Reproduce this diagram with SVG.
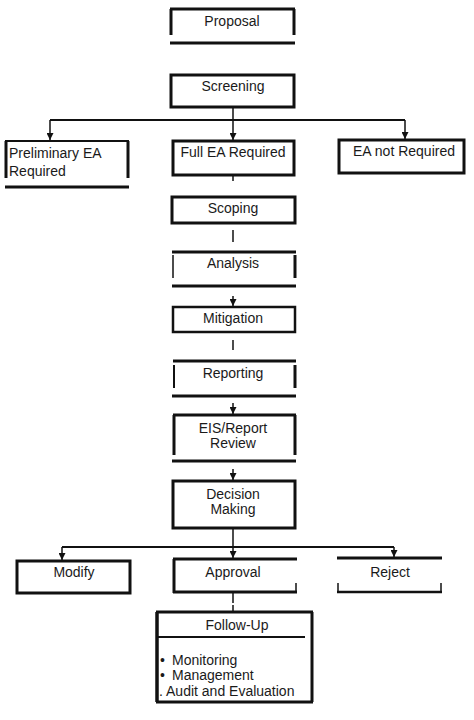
<svg xmlns="http://www.w3.org/2000/svg" width="474" height="720" viewBox="0 0 474 720">
<style>
  text { font-family: "Liberation Sans", Arial, sans-serif; font-size: 14px; fill: #1a1a1a; }
  .c { text-anchor: middle; }
  .b { fill: none; stroke: #111; stroke-width: 3; }
  .t { fill: none; stroke: #111; stroke-width: 1.5; }
  .k { fill: none; stroke: #111; stroke-width: 1.5; }
  .a { fill: none; stroke: #111; stroke-width: 1.5; marker-end: url(#ah); }
</style>
<defs>
  <marker id="ah" markerWidth="7" markerHeight="7" refX="7" refY="3.5" orient="auto" markerUnits="userSpaceOnUse" viewBox="0 0 7 7">
    <path d="M0,0 L7,3.5 L0,7 Z" fill="#111"/>
  </marker>
</defs>
<rect width="474" height="720" fill="#fff"/>

<g id="connectors">
  <line class="k" x1="233" y1="107" x2="233" y2="120"/>
  <line class="k" x1="50" y1="120" x2="405" y2="120" style="stroke-width:2"/>
  <line class="a" x1="50" y1="120" x2="50" y2="140"/>
  <line class="a" x1="233" y1="120" x2="233" y2="140"/>
  <line class="a" x1="405" y1="120" x2="405" y2="139"/>
  <line class="k" x1="233" y1="175" x2="233" y2="181"/>
  <line class="k" x1="233" y1="230" x2="233" y2="242"/>
  <line class="a" x1="233" y1="296" x2="233" y2="306"/>
  <line class="k" x1="233" y1="340" x2="233" y2="350"/>
  <line class="a" x1="233" y1="403" x2="233" y2="414"/>
  <line class="a" x1="233" y1="469" x2="233" y2="480"/>
  <line class="k" x1="233" y1="528" x2="233" y2="547"/>
  <line class="k" x1="62" y1="547" x2="394" y2="547" style="stroke-width:2"/>
  <line class="a" x1="62" y1="547" x2="62" y2="560"/>
  <line class="a" x1="233" y1="547" x2="233" y2="558"/>
  <line class="a" x1="394" y1="547" x2="394" y2="557"/>
  <line class="k" x1="233" y1="592" x2="233" y2="603"/>
  <line class="k" x1="233" y1="605" x2="233" y2="611"/>
</g>

<g id="proposal">
  <line class="b" x1="170" y1="9" x2="295" y2="9"/>
  <line class="b" x1="171" y1="9" x2="171" y2="35"/>
  <line class="b" x1="294" y1="9" x2="294" y2="35"/>
  <line class="b" x1="170" y1="43" x2="295" y2="43"/>
  <text class="c" x="232" y="26">Proposal</text>
</g>

<g id="screening">
  <rect class="b" x="171" y="75" width="123" height="32"/>
  <text class="c" x="233" y="91">Screening</text>
</g>

<g id="preliminary">
  <line class="b" x1="5" y1="141" x2="129" y2="141" style="stroke-width:2"/>
  <line class="b" x1="6" y1="141" x2="6" y2="178"/>
  <line class="b" x1="128" y1="141" x2="128" y2="178"/>
  <line class="b" x1="5" y1="187" x2="129" y2="187"/>
  <text x="9" y="158">Preliminary EA</text>
  <text x="9" y="176">Required</text>
</g>

<g id="full-ea">
  <rect class="b" x="173" y="141" width="121" height="34"/>
  <text class="c" x="233" y="157">Full EA Required</text>
</g>

<g id="ea-not">
  <rect class="b" x="339" y="140" width="125" height="33"/>
  <text class="c" x="404" y="156">EA not Required</text>
</g>

<g id="scoping">
  <rect class="b" x="172" y="197" width="123" height="26"/>
  <text class="c" x="233" y="213">Scoping</text>
</g>

<g id="analysis">
  <line class="b" x1="172" y1="252" x2="296" y2="252"/>
  <line class="t" x1="173" y1="255" x2="173" y2="278"/>
  <line class="b" x1="295" y1="255" x2="295" y2="278"/>
  <line class="b" x1="172" y1="286" x2="296" y2="286"/>
  <text class="c" x="233" y="268">Analysis</text>
</g>

<g id="mitigation">
  <rect class="b" x="173" y="307" width="122" height="25" style="stroke-width:2.5"/>
  <text class="c" x="233" y="323">Mitigation</text>
</g>

<g id="reporting">
  <line class="b" x1="173" y1="361" x2="296" y2="361"/>
  <line class="b" x1="174" y1="365" x2="174" y2="388" style="stroke-width:2"/>
  <line class="b" x1="295" y1="365" x2="295" y2="388"/>
  <line class="b" x1="172" y1="396" x2="296" y2="396"/>
  <text class="c" x="233" y="378">Reporting</text>
</g>

<g id="eis">
  <line class="b" x1="173" y1="415" x2="296" y2="415"/>
  <line class="b" x1="174" y1="415" x2="174" y2="455"/>
  <line class="b" x1="295" y1="415" x2="295" y2="455"/>
  <line class="b" x1="172" y1="461" x2="296" y2="461"/>
  <text class="c" x="233" y="433">EIS/Report</text>
  <text class="c" x="233" y="448">Review</text>
</g>

<g id="decision">
  <rect class="b" x="173" y="481" width="122" height="47"/>
  <text class="c" x="233" y="499">Decision</text>
  <text class="c" x="233" y="514">Making</text>
</g>

<g id="modify">
  <rect class="b" x="17" y="561" width="113" height="32"/>
  <text class="c" x="74" y="577">Modify</text>
</g>

<g id="approval">
  <line class="b" x1="173" y1="559" x2="297" y2="559"/>
  <line class="b" x1="174" y1="559" x2="174" y2="593"/>
  <line class="b" x1="173" y1="592" x2="297" y2="592"/>
  <line class="t" x1="296" y1="583" x2="296" y2="592"/>
  <text class="c" x="233" y="577">Approval</text>
</g>

<g id="reject">
  <line class="b" x1="337" y1="558" x2="442" y2="558"/>
  <line class="b" x1="337" y1="592" x2="442" y2="592" style="stroke-width:2.5"/>
  <line class="t" x1="338" y1="583" x2="338" y2="592"/>
  <line class="t" x1="441" y1="583" x2="441" y2="592"/>
  <text class="c" x="390" y="577">Reject</text>
</g>

<g id="follow-up">
  <line class="b" x1="156" y1="612" x2="313" y2="612"/>
  <line class="b" x1="157" y1="612" x2="157" y2="702" style="stroke-width:3.5"/>
  <line class="b" x1="312" y1="612" x2="312" y2="702"/>
  <line class="b" x1="156" y1="702" x2="313" y2="702"/>
  <line class="b" x1="156" y1="637" x2="305" y2="637" style="stroke-width:2"/>
  <text class="c" x="237" y="630">Follow-Up</text>
  <text x="160" y="665">•</text>
  <text x="172" y="665">Monitoring</text>
  <text x="160" y="680">•</text>
  <text x="172" y="680">Management</text>
  <text x="159" y="696">. Audit and Evaluation</text>
</g>
</svg>
